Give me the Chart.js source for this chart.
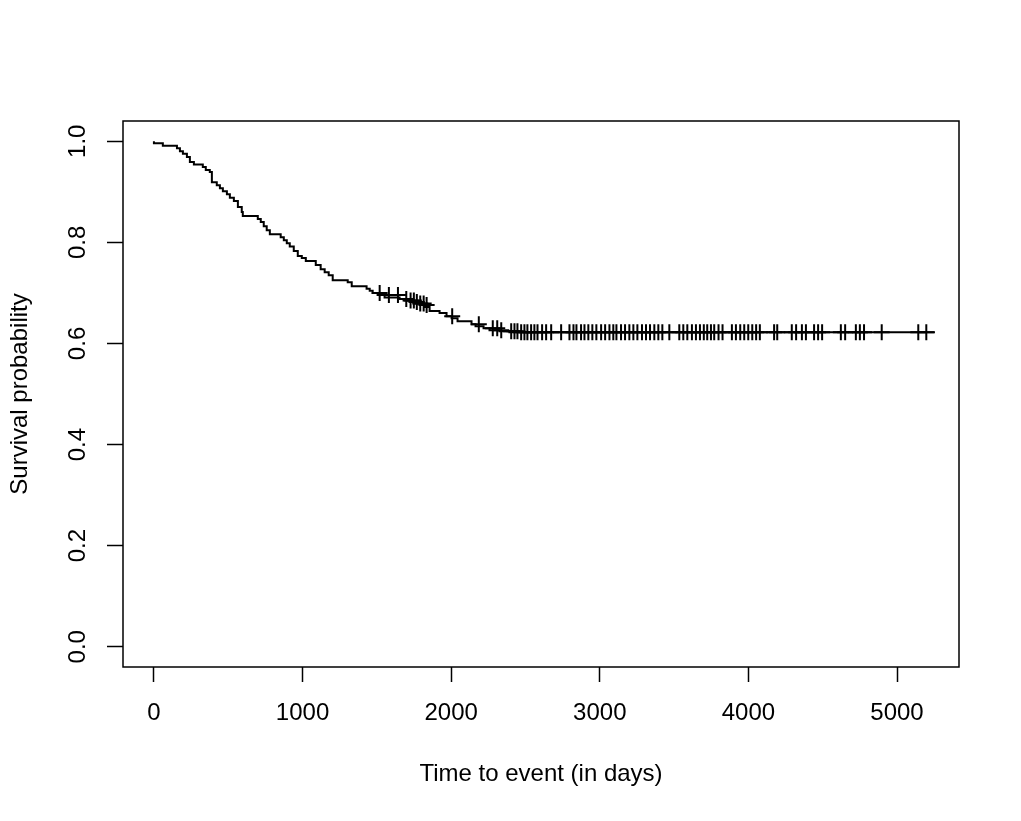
<!DOCTYPE html>
<html lang="en">
<head>
  <meta charset="UTF-8">
  <title>Survival curve</title>
  <script src="https://cdn.jsdelivr.net/npm/chart.js"></script>
  <style>
    body { margin: 0; background: #fff; }
  </style>
</head>
<body>
  <canvas id="kmChart" width="1021" height="821"></canvas>

  <script>
    // Kaplan-Meier step curve: day of each drop and survival right after it
    const eventDays = [60, 155, 175, 195, 222, 242, 269, 329, 349, 376,
      390, 423, 444, 464, 491, 511, 538, 565, 591, 598,
      699, 719, 739, 759, 780, 853, 874, 894, 914, 941,
      968, 995, 1022, 1089, 1122, 1149, 1176, 1203, 1304, 1331,
      1431, 1452, 1472, 1505, 1552, 1653, 1687, 1720, 1754, 1788,
      1821, 1855, 1922, 1969, 2003, 2043, 2137, 2164, 2218, 2258,
      2325, 2392, 2460];
    const survival = [0.996, 0.991, 0.986, 0.980, 0.975, 0.969, 0.959, 0.954, 0.949, 0.943,
      0.939, 0.919, 0.913, 0.907, 0.901, 0.895, 0.888, 0.882, 0.870, 0.860,
      0.852, 0.846, 0.840, 0.832, 0.824, 0.816, 0.810, 0.804, 0.798, 0.792,
      0.783, 0.773, 0.769, 0.763, 0.755, 0.747, 0.741, 0.735, 0.725, 0.721,
      0.713, 0.708, 0.704, 0.700, 0.696, 0.691, 0.688, 0.685, 0.682, 0.679,
      0.676, 0.672, 0.664, 0.660, 0.654, 0.650, 0.644, 0.638, 0.634, 0.630,
      0.626, 0.624, 0.622];
    const lastDay = 5255;

    // censored observations (the "+" marks)
    const censorDays = [1519, 1581, 1642, 1698, 1727, 1749, 1769, 1792, 1815, 1835,
      2007, 2186, 2280, 2310, 2337,
      2404, 2426, 2446, 2471, 2493, 2513, 2538, 2560, 2581, 2612, 2639, 2673,
      2740, 2796, 2823, 2843, 2874, 2897, 2923, 2950, 2977, 3009, 3036, 3065,
      3091, 3112, 3143, 3170, 3199, 3226, 3253, 3284, 3311, 3338, 3367, 3394,
      3421, 3468, 3535, 3562, 3589, 3620, 3647, 3674, 3700, 3723, 3748, 3770,
      3799, 3826, 3889, 3916, 3945, 3972, 3999, 4026, 4052, 4077, 4173, 4194,
      4292, 4321, 4360, 4387, 4442, 4469, 4496, 4622, 4651, 4723, 4750, 4778,
      4897, 5143, 5197];

    const xTicks = [0, 1000, 2000, 3000, 4000, 5000];
    const yTicks = [0, 0.2, 0.4, 0.6, 0.8, 1.0];

    const FONT = '"Liberation Sans", Arial, sans-serif';
    const FONT_SIZE = 24;

    // survival value in effect on a given day
    function survivalAt(day) {
      let s = 1;
      for (let i = 0; i < eventDays.length; i++) {
        if (eventDays[i] <= day) s = survival[i];
      }
      return s;
    }

    const stepPoints = [{ x: 0, y: 1 }];
    eventDays.forEach((d, i) => stepPoints.push({ x: d, y: survival[i] }));
    stepPoints.push({ x: lastDay, y: survival[survival.length - 1] });

    const censorPoints = censorDays.map(d => ({ x: d, y: survivalAt(d) }));

    // box around the plot + rotated y tick labels (R style)
    const framePlugin = {
      id: 'frame',
      afterDraw(chart) {
        const { ctx, chartArea } = chart;
        const yScale = chart.scales.y;
        ctx.save();
        ctx.strokeStyle = '#000';
        ctx.lineWidth = 1.5;
        ctx.strokeRect(chartArea.left, chartArea.top,
          chartArea.right - chartArea.left, chartArea.bottom - chartArea.top);
        ctx.fillStyle = '#000';
        ctx.font = FONT_SIZE + 'px ' + FONT;
        ctx.textAlign = 'center';
        ctx.textBaseline = 'middle';
        yTicks.forEach(v => {
          ctx.save();
          ctx.translate(78, yScale.getPixelForValue(v));
          ctx.rotate(-Math.PI / 2);
          ctx.fillText(v.toFixed(1), 0, 0);
          ctx.restore();
        });
        ctx.restore();
      }
    };

    const ctx = document.getElementById('kmChart').getContext('2d');
    new Chart(ctx, {
      type: 'scatter',
      data: {
        datasets: [
          {
            label: 'Survival',
            data: stepPoints,
            showLine: true,
            stepped: 'after',
            borderColor: '#000',
            borderWidth: 2,
            pointRadius: 0,
            fill: false,
          },
          {
            label: 'Censored',
            data: censorPoints,
            showLine: false,
            pointStyle: 'cross',
            pointRadius: 8,
            pointBorderColor: '#000',
            pointBorderWidth: 2,
          },
        ],
      },
      options: {
        responsive: false,
        animation: false,
        devicePixelRatio: 1,
        layout: { padding: { top: 121, right: 62, left: 0, bottom: 0 } },
        plugins: { legend: { display: false }, tooltip: { enabled: false } },
        scales: {
          x: {
            type: 'linear',
            min: -208,
            max: 5417,
            afterBuildTicks: scale => { scale.ticks = xTicks.map(v => ({ value: v })); },
            afterFit: scale => { scale.height = 154; },
            grid: { drawOnChartArea: false, tickLength: 15, tickColor: '#000', tickWidth: 1.5 },
            border: { display: false },
            ticks: {
              color: '#000',
              font: { size: FONT_SIZE, family: FONT },
              padding: 17,
              maxRotation: 0,
              callback: v => String(v),
            },
            title: {
              display: true,
              text: 'Time to event (in days)',
              color: '#000',
              font: { size: FONT_SIZE, family: FONT },
              padding: { top: 0, bottom: 32 },
            },
          },
          y: {
            type: 'linear',
            min: -0.04,
            max: 1.04,
            afterBuildTicks: scale => { scale.ticks = yTicks.map(v => ({ value: v })); },
            afterFit: scale => { scale.width = 123; },
            grid: { drawOnChartArea: false, tickLength: 16, tickColor: '#000', tickWidth: 1.5 },
            border: { display: false },
            ticks: { display: false },
            title: {
              display: true,
              text: 'Survival probability',
              color: '#000',
              font: { size: FONT_SIZE, family: FONT },
              padding: { top: 6, bottom: 0 },
            },
          },
        },
      },
      plugins: [framePlugin],
    });
  </script>
</body>
</html>
